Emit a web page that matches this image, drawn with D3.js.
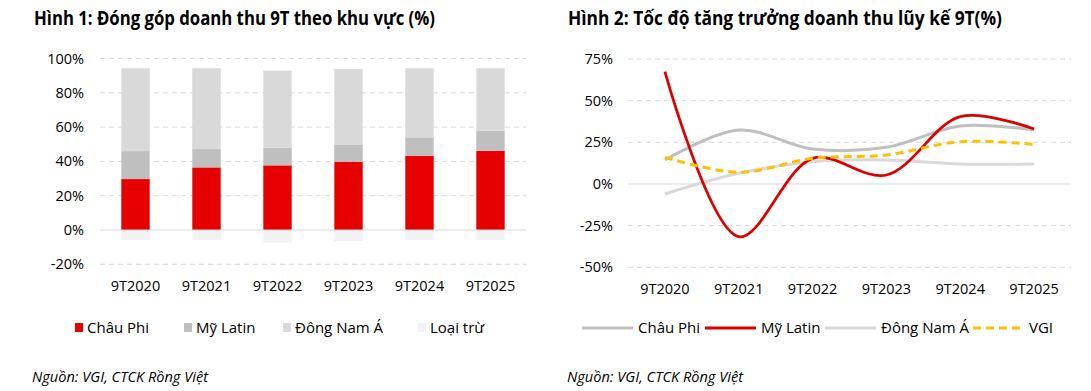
<!DOCTYPE html>
<html>
<head>
<meta charset="utf-8">
<script src="https://cdn.jsdelivr.net/npm/d3@7"></script>
<style>
  body { margin: 0; background: #fff; }
  svg { font-family: "Open Sans", sans-serif; }
</style>
</head>
<body>
<svg width="1091" height="391"></svg>
<script>
var years = ["9T2020", "9T2021", "9T2022", "9T2023", "9T2024", "9T2025"];

// Hinh 1 - share of revenue (%)
var chauPhi = [29.7, 36.5, 37.7, 39.8, 43.3, 46.2];
var myLatin = [16.3, 10.7, 10.3, 9.8, 10.7, 11.7];
var dongNamA = [48.3, 47.1, 44.9, 44.3, 40.3, 36.4];
var loaiTru = [-5.8, -5.8, -7.2, -6.4, -5.8, -5.8];
var shareTicks = [-20, 0, 20, 40, 60, 80, 100];

// Hinh 2 - growth (%)
var gChauPhi = [14.4, 32.4, 21, 22, 34.8, 32.4];
var gMyLatin = [67.4, -31.6, 15.4, 5.4, 40.4, 33];
var gDongNamA = [-6, 6.4, 13.4, 14.4, 12, 12];
var gVGI = [16, 7, 15.4, 17.4, 25.4, 23.8];
var growthTicks = [-50, -25, 0, 25, 50, 75];

var svg = d3.select("svg");

// ---------- titles & sources ----------
svg.append("text")
  .attr("x", 34).attr("y", 25)
  .attr("font-size", "19px").attr("font-weight", "bold").attr("fill", "#000")
  .attr("textLength", 401).attr("lengthAdjust", "spacingAndGlyphs")
  .text("Hình 1: Đóng góp doanh thu 9T theo khu vực (%)");

svg.append("text")
  .attr("x", 568).attr("y", 25)
  .attr("font-size", "19px").attr("font-weight", "bold").attr("fill", "#000")
  .attr("textLength", 434).attr("lengthAdjust", "spacingAndGlyphs")
  .text("Hình 2: Tốc độ tăng trưởng doanh thu lũy kế 9T(%)");

[32, 567].forEach(function (x) {
  svg.append("text")
    .attr("x", x).attr("y", 382)
    .attr("font-size", "15px").attr("font-style", "italic").attr("fill", "#000")
    .attr("textLength", 176).attr("lengthAdjust", "spacingAndGlyphs")
    .text("Nguồn: VGI, CTCK Rồng Việt");
});

// ---------- Hinh 1 ----------
var x1 = d3.scaleBand().domain(years).range([100, 526])
  .paddingInner(0.6).paddingOuter(0.3);
var y1 = d3.scaleLinear().domain([-20, 100]).range([264.3, 58.5]);

var g1 = svg.append("g");

g1.selectAll(".grid")
  .data(shareTicks.filter(function (d) { return d !== 0; }))
  .join("line")
  .attr("x1", 100).attr("x2", 526)
  .attr("y1", function (d) { return y1(d); })
  .attr("y2", function (d) { return y1(d); })
  .attr("stroke", "#d9d9d9").attr("stroke-width", 1)
  .attr("stroke-dasharray", "5,4");

g1.selectAll(".ytick")
  .data(shareTicks)
  .join("text")
  .attr("x", 84).attr("y", function (d) { return y1(d); })
  .attr("dy", "0.35em").attr("text-anchor", "end")
  .attr("font-size", "14.5px").attr("fill", "#000")
  .text(function (d) { return d + "%"; });

var seriesKeys = ["Châu Phi", "Mỹ Latin", "Đông Nam Á", "Loại trừ"];
var barColors = ["#e60000", "#bfbfbf", "#d9d9d9", "#f2f2f2"];
var rows = years.map(function (y, i) {
  return {
    year: y,
    "Châu Phi": chauPhi[i],
    "Mỹ Latin": myLatin[i],
    "Đông Nam Á": dongNamA[i],
    "Loại trừ": loaiTru[i]
  };
});
var stacked = d3.stack().keys(seriesKeys).offset(d3.stackOffsetDiverging)(rows);

g1.selectAll(".layer")
  .data(stacked)
  .join("g")
  .attr("fill", function (d, i) { return barColors[i]; })
  .selectAll("rect")
  .data(function (d) { return d; })
  .join("rect")
  .attr("x", function (d) { return x1(d.data.year); })
  .attr("width", x1.bandwidth())
  .attr("y", function (d) { return y1(Math.max(d[0], d[1])); })
  .attr("height", function (d) { return Math.abs(y1(d[0]) - y1(d[1])); });

g1.append("line")
  .attr("x1", 100).attr("x2", 526)
  .attr("y1", y1(0)).attr("y2", y1(0))
  .attr("stroke", "#d9d9d9").attr("stroke-width", 1);

g1.selectAll(".xtick")
  .data(years)
  .join("text")
  .attr("x", function (d) { return x1(d) + x1.bandwidth() / 2; })
  .attr("y", 291)
  .attr("text-anchor", "middle").attr("font-size", "14.5px").attr("fill", "#000")
  .text(function (d) { return d; });

// legend 1
var leg1X = [75, 184, 283, 418];
var leg1 = g1.selectAll(".leg")
  .data(seriesKeys)
  .join("g")
  .attr("transform", function (d, i) { return "translate(" + leg1X[i] + ",0)"; });
leg1.append("rect")
  .attr("x", 0).attr("y", 323).attr("width", 8).attr("height", 9)
  .attr("fill", function (d, i) { return barColors[i]; });
leg1.append("text")
  .attr("x", 12).attr("y", 333)
  .attr("font-size", "15px").attr("fill", "#000")
  .text(function (d) { return d; });

// ---------- Hinh 2 ----------
var x2 = d3.scalePoint().domain(years).range([628, 1071]).padding(0.5);
var y2 = d3.scaleLinear().domain([-50, 75]).range([267.3, 59]);

var g2 = svg.append("g");

g2.selectAll(".grid")
  .data(growthTicks.filter(function (d) { return d !== 0; }))
  .join("line")
  .attr("x1", 628).attr("x2", 1071)
  .attr("y1", function (d) { return y2(d); })
  .attr("y2", function (d) { return y2(d); })
  .attr("stroke", "#d9d9d9").attr("stroke-width", 1)
  .attr("stroke-dasharray", "5,4");

g2.append("line")
  .attr("x1", 628).attr("x2", 1071)
  .attr("y1", y2(0)).attr("y2", y2(0))
  .attr("stroke", "#d9d9d9").attr("stroke-width", 1);

g2.selectAll(".ytick")
  .data(growthTicks)
  .join("text")
  .attr("x", 613).attr("y", function (d) { return y2(d); })
  .attr("dy", "0.35em").attr("text-anchor", "end")
  .attr("font-size", "14.5px").attr("fill", "#000")
  .text(function (d) { return d + "%"; });

g2.selectAll(".xtick")
  .data(years)
  .join("text")
  .attr("x", function (d) { return x2(d); })
  .attr("y", 294)
  .attr("text-anchor", "middle").attr("font-size", "14.5px").attr("fill", "#000")
  .text(function (d) { return d; });

var lines = [
  { name: "Châu Phi", values: gChauPhi, color: "#bfbfbf", width: 3, dash: null },
  { name: "Mỹ Latin", values: gMyLatin, color: "#dc0000", width: 2.75, dash: null },
  { name: "Đông Nam Á", values: gDongNamA, color: "#d9d9d9", width: 3, dash: null },
  { name: "VGI", values: gVGI, color: "#ffc000", width: 3, dash: "8,5" }
];

var lineGen = d3.line()
  .x(function (d, i) { return x2(years[i]); })
  .y(function (d) { return y2(d); })
  .curve(d3.curveCatmullRom.alpha(0.5));

// draw order: light series first, red and VGI on top
[2, 0, 1, 3].forEach(function (k) {
  var s = lines[k];
  g2.append("path")
    .attr("d", lineGen(s.values))
    .attr("fill", "none")
    .attr("stroke", s.color)
    .attr("stroke-width", s.width)
    .attr("stroke-dasharray", s.dash);
});

// legend 2
var leg2X = [582, 705, 825, 973];
var leg2 = g2.selectAll(".leg")
  .data(lines)
  .join("g")
  .attr("transform", function (d, i) { return "translate(" + leg2X[i] + ",0)"; });
leg2.append("line")
  .attr("x1", 0).attr("x2", 51).attr("y1", 328).attr("y2", 328)
  .attr("stroke", function (d) { return d.color; })
  .attr("stroke-width", 3)
  .attr("stroke-dasharray", function (d) { return d.dash; });
leg2.append("text")
  .attr("x", 56).attr("y", 333)
  .attr("font-size", "15px").attr("fill", "#000")
  .text(function (d) { return d.name; });
</script>
</body>
</html>
